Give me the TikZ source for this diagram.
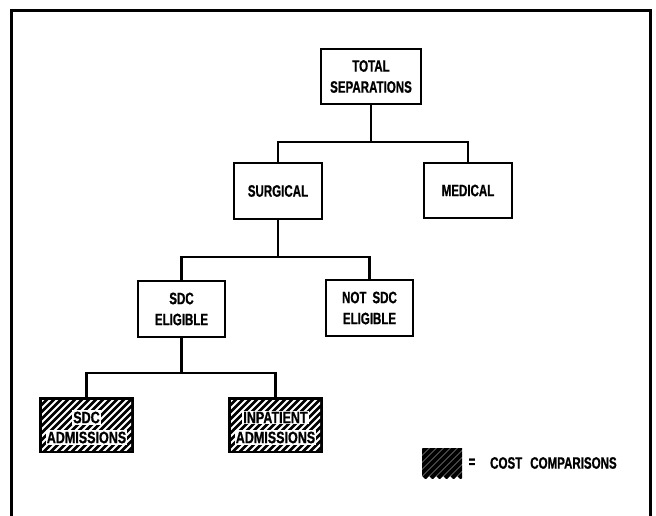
\documentclass[tikz,border=0pt]{standalone}
\usepackage{fontspec}
\newfontfamily\lbl[FakeStretch=0.70,BoldFeatures={FakeBold=0.8}]{Liberation Sans}
\newfontfamily\lblw[FakeStretch=0.76,BoldFeatures={FakeBold=0.8}]{Liberation Sans}
\begin{document}
\begin{tikzpicture}[x=1pt,y=-1pt,
  box/.style={draw, line width=2.5pt, align=center, inner sep=0pt,
    font=\lbl\bfseries\fontsize{16.5}{21}\selectfont},
  hbox/.style={fill=black, draw=black, line width=1pt, inner sep=0pt},
  htext/.style={fill=white, inner sep=1.2pt, font=\lblw\bfseries\fontsize{16.5}{20}\selectfont},
  conn/.style={line width=2.5pt, line join=miter},
  stripe/.style={white, line width=1.9pt},
  lstripe/.style={black, line width=4.4pt},
  lgtext/.style={inner sep=0pt, font=\lbl\bfseries\fontsize{16.5}{20}\selectfont}]
\useasboundingbox (0,0) rectangle (656,516);
% frame
\draw[line width=3pt] (11,516) -- (11,11) -- (650,11) -- (650,516);
% boxes
\node[box, minimum width=100pt, minimum height=55pt] (total) at (371,76.5) {TOTAL\\SEPARATIONS};
\node[box, minimum width=88pt, minimum height=56pt] (surg) at (278,191) {SURGICAL};
\node[box, minimum width=88pt, minimum height=55pt] (med) at (468,190.5) {MEDICAL};
\node[box, minimum width=87pt, minimum height=56pt] (elig) at (181.5,309) {SDC\\ELIGIBLE};
\node[box, minimum width=87pt, minimum height=56pt] (notelig) at (369.5,308) {NOT\hspace{6pt}SDC\\ELIGIBLE};
% hatched boxes
\node[hbox, minimum width=94pt, minimum height=55pt] (sdcadm) at (86.5,425) {};
\node[hbox, minimum width=94pt, minimum height=55pt] (inpat) at (275.5,425) {};
\begin{scope}
  \clip ([shift={(3,-3)}]sdcadm.south west) rectangle ([shift={(-3,3)}]sdcadm.north east);
  \foreach \i in {-70,-63,...,110}
    \draw[stripe] ([shift={(\i,0)}]sdcadm.south west) -- ++(62,-62);
\end{scope}
\begin{scope}
  \clip ([shift={(3,-3)}]inpat.south west) rectangle ([shift={(-3,3)}]inpat.north east);
  \foreach \i in {-70,-63,...,110}
    \draw[stripe] ([shift={(\i,0)}]inpat.south west) -- ++(62,-62);
\end{scope}
\node[htext] (sdcadm1) at (86.5,417.5) {SDC};
\node[htext] (sdcadm2) at (86.5,437.5) {ADMISSIONS};
\node[htext] (inpat1) at (275.5,417.5) {INPATIENT};
\node[htext] (inpat2) at (275.5,437.5) {ADMISSIONS};
% connectors
\coordinate (j1) at (371,142);
\coordinate (j2) at (278,257);
\coordinate (j3) at (181.5,373);
\draw[conn] (total.south) -- (j1);
\draw[conn] (surg.north) |- (j1) -| (med.north);
\draw[conn] (surg.south) -- (j2);
\draw[conn] (elig.north) |- (j2) -| (notelig.north);
\draw[conn] (elig.south) -- (j3);
\draw[conn] (sdcadm.north) |- (j3) -| (inpat.north);
% legend
\coordinate (lg) at (422,478);
\begin{scope}
  \clip (422,448) rectangle (462,478);
  \foreach \i in {-40,-33,...,50}
    \draw[lstripe] ([shift={(\i,0)}]lg) -- ++(36,-36);
\end{scope}
\node[lgtext] (eq) at (472,463) {=};
\node[lgtext, anchor=west] (lgt) at (490,463) {COST\hspace{8pt}COMPARISONS};
\end{tikzpicture}
\end{document}
